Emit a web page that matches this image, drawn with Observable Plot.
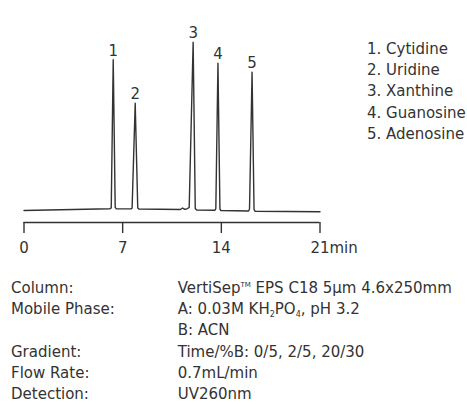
<!DOCTYPE html>
<html>
<head>
<meta charset="utf-8">
<script src="https://cdn.jsdelivr.net/npm/d3@7"></script>
<script src="https://cdn.jsdelivr.net/npm/@observablehq/plot@0.6"></script>
<style>
  html, body { margin: 0; padding: 0; background: #fff; }
  body { width: 467px; height: 404px; overflow: hidden; font-family: "DejaVu Sans", sans-serif; color: #333; }
  #chart svg { display: block; }
  table.cond { border-collapse: collapse; margin: 13px 0 0 11px; font-size: 15px; line-height: 21.2px; color: #333; }
  table.cond td { padding: 0; vertical-align: top; white-space: nowrap; }
  table.cond td.k { width: 166.7px; }
  sup { font-size: 7px; vertical-align: 6px; line-height: 0; }
  sub { font-size: 8px; vertical-align: -3px; line-height: 0; }
</style>
</head>
<body>
<div id="chart"></div>
<table class="cond" id="cond"></table>
<script>
// ---- data ----
// detector trace: retention time (min) and signal (arbitrary units)
const traceTime   = [0, 6.1, 6.19, 6.33, 6.47, 6.56, 7.6, 7.67, 7.89, 8.07, 8.15, 11.1, 11.25, 11.35, 11.45, 11.55, 11.72, 12.0, 12.15, 12.25, 13.55, 13.61, 13.76, 13.9, 13.97, 15.93, 16.0, 16.18, 16.32, 16.4, 21];
const traceSignal = [0, 1.8, 2.6, 150.7, 3, 1.6, 1.6, 2.6, 107.3, 2.6, 1.5, 1.0, 2.5, 1.5, 1.2, 1.6, 3, 168.3, 2, 0.5, 0.3, 2, 147.3, 1.5, 0, -0.5, 1.5, 138.3, 1, -0.8, -1.3];

const peakLabels = ["1", "2", "3", "4", "5"];
const peakTimes  = [6.33, 7.89, 12.0, 13.76, 16.18];
const peakHeights = [150.7, 107.3, 168.3, 147.3, 138.3];
const compounds  = ["Cytidine", "Uridine", "Xanthine", "Guanosine", "Adenosine"];

const xTicks = [0, 7, 14, 21];
const xUnit = "min";

const condKeys = ["Column:", "Mobile Phase:", "", "Gradient:", "Flow Rate:", "Detection:"];
const condValues = [
  "VertiSep<sup>TM</sup> EPS C18 5μm 4.6x250mm",
  "A: 0.03M KH<sub>2</sub>PO<sub>4</sub>, pH 3.2",
  "B: ACN",
  "Time/%B: 0/5, 2/5, 20/30",
  "0.7mL/min",
  "UV260nm"
];

// ---- build ----
const trace = traceTime.map((t, i) => ({t, s: traceSignal[i]}));
const peaks = peakLabels.map((l, i) => ({label: l, t: peakTimes[i], s: peakHeights[i]}));
const legendText = compounds.map((c, i) => `${peakLabels[i]}. ${c}`).join("\n");

const ink = "#333";
const chart = Plot.plot({
  width: 467,
  height: 265,
  marginLeft: 23.5,
  marginRight: 147.5,
  marginTop: 30,
  marginBottom: 43,
  style: {fontFamily: "DejaVu Sans, sans-serif", fontSize: "15px", color: ink, background: "#fff"},
  x: {domain: [0, 21]},
  y: {domain: [-12, 180], axis: null},
  marks: [
    Plot.ruleY([-12], {x1: 0, x2: 21, stroke: ink, strokeWidth: 1.4}),
    Plot.axisX({ticks: xTicks, tickSize: 11, tickPadding: 9, tickFormat: d => String(d), stroke: ink, strokeWidth: 1.4, strokeOpacity: 1, fill: ink, fontSize: 15, label: null}),
    Plot.text([21], {x: d => d, text: () => xUnit, frameAnchor: "bottom", lineAnchor: "top", textAnchor: "start", dx: 9.5, dy: 20, fill: ink, fontSize: 15}),
    Plot.line(trace, {x: "t", y: "s", stroke: ink, strokeWidth: 1.4, strokeLinejoin: "round"}),
    Plot.text(peaks, {x: "t", y: "s", text: "label", lineAnchor: "bottom", dy: -4, fill: ink, fontSize: 15}),
    Plot.text([legendText], {frameAnchor: "top-right", textAnchor: "start", lineAnchor: "top", dx: 47, dy: 8, lineHeight: 1.42, fill: ink, fontSize: 15})
  ]
});
document.getElementById("chart").appendChild(chart);

const tbl = document.getElementById("cond");
condKeys.forEach((k, i) => {
  const tr = document.createElement("tr");
  tr.innerHTML = `<td class="k">${k}</td><td>${condValues[i]}</td>`;
  tbl.appendChild(tr);
});
</script>
</body>
</html>
